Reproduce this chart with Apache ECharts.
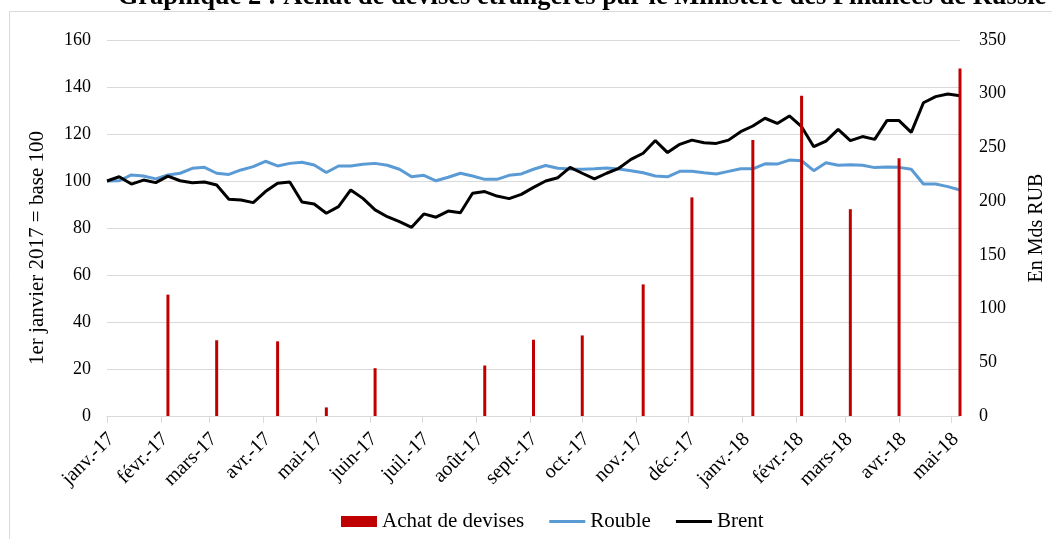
<!DOCTYPE html>
<html>
<head>
<meta charset="utf-8">
<script src="https://cdn.jsdelivr.net/npm/echarts@6/dist/echarts.min.js"></script>
<style>
html,body{margin:0;padding:0;background:#fff;}
#chart{width:1052px;height:539px;}
</style>
</head>
<body>
<div id="chart"></div>
<script>
// ---- Data ----
const startDate = '2017-01-01';
const endDate = '2018-05-06';
const monthLabels = ['janv.-17','févr.-17','mars-17','avr.-17','mai-17','juin-17','juil.-17','août-17','sept.-17','oct.-17','nov.-17','déc.-17','janv.-18','févr.-18','mars-18','avr.-18','mai-18'];
// weekly values (every Sunday from 2017-01-01 to 2018-05-06), base 100 on 1 Jan 2017
const rouble = [100,100.1,102.6,102.1,100.9,102.6,103.3,105.4,105.8,103.3,
  102.8,104.7,106.1,108.4,106.4,107.5,108.0,106.8,103.6,106.4,
  106.4,107.1,107.5,106.7,105.0,101.8,102.4,100.1,101.6,103.3,
  102.1,100.7,100.7,102.4,103.0,105.0,106.6,105.4,105.1,105.0,
  105.2,105.5,105.1,104.4,103.5,102.1,101.8,104.1,104.1,103.5,
  103.0,104.1,105.2,105.2,107.3,107.2,108.9,108.6,104.4,107.8,
  106.7,106.9,106.7,105.7,106.0,105.8,105.0,98.7,98.7,97.6,96.2];
const brent = [100,101.8,98.7,100.4,99.3,102.1,100.1,99.3,99.6,98.3,
  92.2,91.9,90.8,95.5,99.0,99.6,91.1,90.2,86.3,89.1,
  96.2,92.6,87.7,84.8,82.7,80.3,86.0,84.6,87.2,86.5,
  94.8,95.5,93.6,92.5,94.3,97.3,100.0,101.4,105.8,103.3,
  100.9,103.3,105.4,109.2,111.8,117.2,112.1,115.6,117.4,116.3,
  116.0,117.4,121.0,123.4,126.7,124.5,127.7,123.1,114.6,117.0,
  122.0,117.2,118.9,117.7,125.7,125.7,120.7,133.3,135.9,137.0,136.3];
// purchases of foreign currency (Mds RUB)
const purchaseDates = ['2017-02-05','2017-03-05','2017-04-09','2017-05-07','2017-06-04','2017-08-06','2017-09-03','2017-10-01','2017-11-05','2017-12-03','2018-01-07','2018-02-04','2018-03-04','2018-04-01','2018-05-06'];
const purchaseValues = [113,70.5,69.5,8,44.5,47,71,75,122.5,203.5,257,298,192.5,240,323.5];

// ---- Build daily category axis ----
function fmt(d){
  const m = d.getUTCMonth()+1, dd = d.getUTCDate();
  return d.getUTCFullYear()+'-'+(m<10?'0':'')+m+'-'+(dd<10?'0':'')+dd;
}
const days = [];
{
  let d = new Date(startDate+'T00:00:00Z');
  const e = new Date(endDate+'T00:00:00Z');
  while (d <= e){ days.push(fmt(d)); d = new Date(d.getTime()+86400000); }
}
const roubleDaily = days.map(()=>null);
const brentDaily = days.map(()=>null);
rouble.forEach((v,k)=>{ roubleDaily[k*7] = v; });
brent.forEach((v,k)=>{ brentDaily[k*7] = v; });
const barDaily = days.map(()=>null);
purchaseDates.forEach((ds,i)=>{ const idx = days.indexOf(ds); if(idx>=0) barDaily[idx] = purchaseValues[i]; });

function isMonthStart(index, value){ return value.slice(8,10) === '01'; }
function monthLabel(value){
  const y = +value.slice(0,4), m = +value.slice(5,7);
  return monthLabels[(y-2017)*12 + m - 1] || '';
}

const FONT = "'Liberation Serif','Times New Roman',serif";
const LINE_ICON = 'path://M0,0 L36,0 L36,3 L0,3 Z';
const chart = echarts.init(document.getElementById('chart'), null, {renderer:'canvas'});
chart.setOption({
  animation: false,
  backgroundColor: '#fff',
  textStyle: {fontFamily: FONT},
  grid: {left: 107, right: 92, top: 40, bottom: 123},
  legend: {
    left: 336, top: 506,
    itemWidth: 36, itemHeight: 11, itemGap: 25,
    symbolKeepAspect: true,
    textStyle: {fontFamily: FONT, fontSize: 21, color: '#000'},
    data: [
      {name: 'Achat de devises', icon: 'rect'},
      {name: 'Rouble', icon: LINE_ICON},
      {name: 'Brent', icon: LINE_ICON}
    ]
  },
  xAxis: {
    type: 'category',
    data: days,
    boundaryGap: false,
    axisLine: {lineStyle: {color: '#d9d9d9', width: 1}},
    axisTick: {interval: isMonthStart, length: 7, lineStyle: {color: '#d9d9d9'}},
    axisLabel: {
      interval: isMonthStart, rotate: 45, margin: 16,
      verticalAlign: 'top', lineHeight: 12,
      fontFamily: FONT, fontSize: 20, color: '#000',
      formatter: monthLabel
    },
    splitLine: {show: false}
  },
  yAxis: [
    {
      type: 'value', min: 0, max: 160, interval: 20,
      axisLine: {show: false}, axisTick: {show: false},
      axisLabel: {fontFamily: FONT, fontSize: 18, color: '#000', margin: 16},
      splitLine: {lineStyle: {color: '#d9d9d9', width: 1}}
    },
    {
      type: 'value', min: 0, max: 350, interval: 50, position: 'right',
      axisLine: {show: false}, axisTick: {show: false},
      axisLabel: {fontFamily: FONT, fontSize: 18, color: '#000', margin: 19},
      splitLine: {show: false}
    }
  ],
  series: [
    {
      name: 'Achat de devises', type: 'bar', yAxisIndex: 1,
      data: barDaily, barWidth: 3, z: 5,
      itemStyle: {color: '#c00000'}
    },
    {
      name: 'Rouble', type: 'line', data: roubleDaily, connectNulls: true,
      symbol: 'none', z: 3,
      lineStyle: {color: '#5b9bd5', width: 3}, itemStyle: {color: '#5b9bd5'}
    },
    {
      name: 'Brent', type: 'line', data: brentDaily, connectNulls: true,
      symbol: 'none', z: 4,
      lineStyle: {color: '#000', width: 3}, itemStyle: {color: '#000'}
    }
  ],
  graphic: [
    {type: 'rect', left: 7, top: 9, shape: {width: 1100, height: 600}, style: {fill: null, stroke: '#d9d9d9', lineWidth: 1}, silent: true},
    {type: 'text', x: 582, y: 11, style: {text: 'Graphique 2 : Achat de devises étrangères par le Ministère des Finances de Russie', font: 'bold 26.5px ' + FONT, fill: '#000', align: 'center', verticalAlign: 'bottom'}},
    {type: 'text', x: 37, y: 248, rotation: Math.PI/2, style: {text: '1er janvier 2017 = base 100', font: '21px ' + FONT, fill: '#000', align: 'center', verticalAlign: 'middle'}},
    {type: 'text', x: 1037, y: 228, rotation: Math.PI/2, style: {text: 'En Mds RUB', font: '20px ' + FONT, fill: '#000', align: 'center', verticalAlign: 'middle'}}
  ]
});
</script>
</body>
</html>
